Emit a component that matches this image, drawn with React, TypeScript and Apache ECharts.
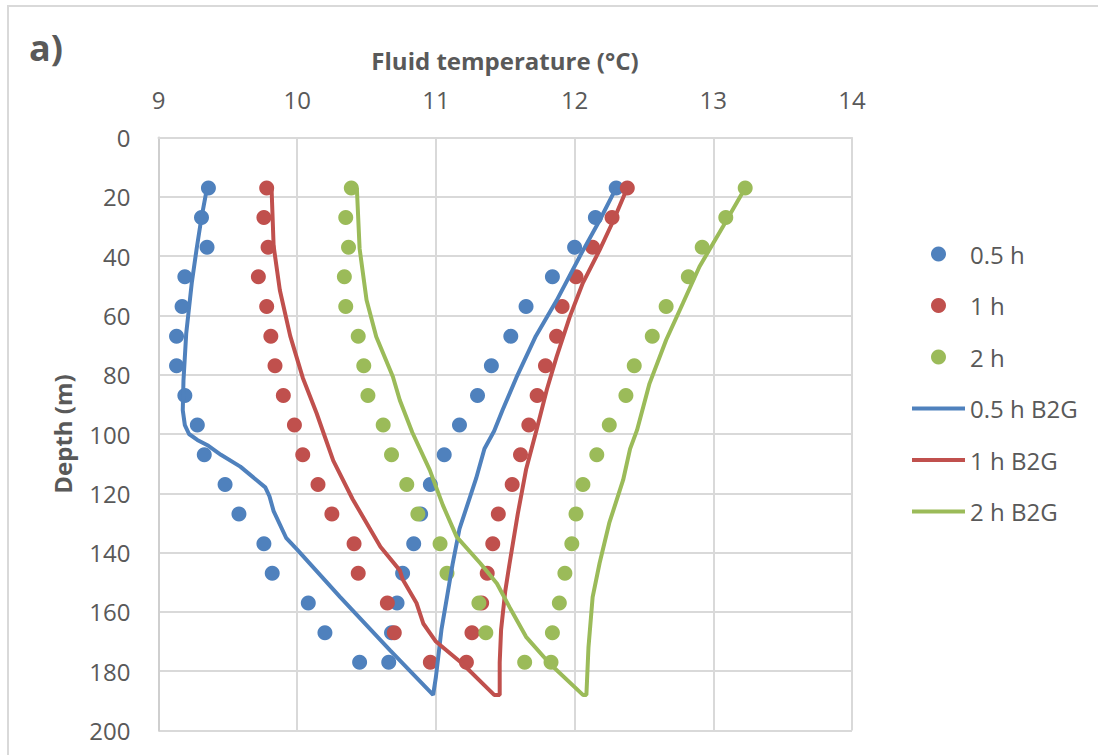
import React, { useEffect, useRef } from "react";
import * as echarts from "echarts";

// Depth of measured points (m)
const depths = [17, 27, 37, 47, 57, 67, 77, 87, 97, 107, 117, 127, 137, 147, 157, 167, 177];

// Measured fluid temperatures (°C), two legs of the U-tube
const dot05Left = [9.36, 9.31, 9.35, 9.19, 9.17, 9.13, 9.13, 9.19, 9.28, 9.33, 9.48, 9.58, 9.76, 9.82, 10.08, 10.2, 10.45];
const dot05Right = [12.3, 12.15, 12.0, 11.84, 11.65, 11.54, 11.4, 11.3, 11.17, 11.06, 10.96, 10.89, 10.84, 10.76, 10.72, 10.68, 10.66];
const dot1Left = [9.78, 9.76, 9.79, 9.72, 9.78, 9.81, 9.84, 9.9, 9.98, 10.04, 10.15, 10.25, 10.41, 10.44, 10.65, 10.7, 10.96];
const dot1Right = [12.38, 12.27, 12.13, 12.01, 11.91, 11.87, 11.79, 11.73, 11.67, 11.61, 11.55, 11.45, 11.41, 11.37, 11.33, 11.26, 11.22];
const dot2Left = [10.39, 10.35, 10.37, 10.34, 10.35, 10.44, 10.48, 10.51, 10.62, 10.68, 10.79, 10.87, 11.03, 11.08, 11.31, 11.36, 11.64];
const dot2Right = [13.23, 13.09, 12.92, 12.82, 12.66, 12.56, 12.43, 12.37, 12.25, 12.16, 12.06, 12.01, 11.98, 11.93, 11.89, 11.84, 11.83];

// B2G model profiles: [temperature, depth], down one leg and up the other
const b2g05: [number, number][] = [
  [12.3, 17], [12.18, 28], [12.05, 39], [11.87, 55], [11.72, 67], [11.58, 81], [11.48, 92], [11.42, 99],
  [11.35, 105], [11.29, 115], [11.17, 132], [11.12, 144], [11.08, 155], [11.04, 166], [11.0, 182], [10.98, 188],
  [10.67, 173], [10.31, 155], [10.0, 139], [9.92, 135], [9.83, 126], [9.8, 121], [9.77, 118], [9.59, 111],
  [9.45, 107], [9.36, 104], [9.28, 102], [9.22, 100], [9.19, 97], [9.175, 92], [9.18, 82], [9.2, 66],
  [9.24, 49], [9.275, 37.5], [9.31, 27], [9.35, 17],
];
const b2g1: [number, number][] = [
  [12.38, 17], [12.28, 28], [12.18, 38], [12.06, 49], [11.965, 60.5], [11.87, 74], [11.8, 85], [11.725, 98.7],
  [11.65, 112], [11.59, 127], [11.53, 144], [11.5, 153], [11.47, 166], [11.46, 177], [11.46, 188],
  [11.42, 188], [11.19, 177.4], [11.0, 170], [10.91, 164], [10.86, 157], [10.76, 149], [10.74, 146],
  [10.6, 138], [10.4, 122], [10.26, 109], [10.2, 101], [10.14, 93], [10.04, 81], [9.95, 67], [9.875, 51.5],
  [9.83, 36.6], [9.815, 17],
];
const b2g2: [number, number][] = [
  [13.23, 17], [13.07, 30], [12.9, 43.6], [12.78, 56], [12.66, 68.3], [12.54, 83], [12.45, 98.7], [12.4, 105],
  [12.35, 115.5], [12.25, 130], [12.18, 143.6], [12.13, 155], [12.1, 172], [12.085, 188],
  [12.06, 188], [11.82, 177.4], [11.65, 168.4], [11.53, 158.3], [11.44, 150.4], [11.32, 143.6], [11.15, 134.7],
  [11.05, 124], [10.956, 112.2], [10.83, 99.5], [10.74, 88.6], [10.69, 80.7], [10.57, 67.2], [10.5, 54.8],
  [10.45, 37.5], [10.43, 17],
];

const xTicks = [9, 10, 11, 12, 13, 14];
const yTicks = [0, 20, 40, 60, 80, 100, 120, 140, 160, 180, 200];

const BLUE = "#4F81BD";
const RED = "#C0504D";
const GREEN = "#9BBB59";
const TEXT = "#595959";
const GRID = "#D9D9D9";
const FONT = "'Open Sans', 'Noto Sans', sans-serif";
const LINE_ICON = "path://M0 0H53V4H0Z";

const pairs = (left: number[], right: number[]) => [
  ...left.map((t, i) => [t, depths[i]]),
  ...right.map((t, i) => [t, depths[i]]),
];

export default function App() {
  const ref = useRef<HTMLDivElement>(null);
  useEffect(() => {
    if (!ref.current) return;
    const chart = echarts.init(ref.current, null, { renderer: "svg" });
    const scatter = (name: string, color: string, data: number[][]) => ({
      name,
      type: "scatter",
      data,
      symbol: "circle",
      symbolSize: 15,
      itemStyle: { color, opacity: 1 },
      z: 2,
    });
    const line = (name: string, color: string, data: number[][]) => ({
      name,
      type: "line",
      data,
      symbol: "none",
      showSymbol: false,
      lineStyle: { color, width: 4 },
      itemStyle: { color },
      z: 3,
    });
    chart.setOption({
      animation: false,
      backgroundColor: "#fff",
      textStyle: { fontFamily: FONT },
      grid: { left: 158.5, right: 246, top: 137.5, bottom: 24.5, containLabel: false },
      xAxis: {
        type: "value",
        position: "top",
        min: xTicks[0],
        max: xTicks[xTicks.length - 1],
        interval: 1,
        axisLine: { show: true, lineStyle: { color: GRID, width: 2 } },
        axisTick: { show: false },
        axisLabel: { color: TEXT, fontSize: 24, fontFamily: FONT, margin: 26 },
        splitLine: { show: true, lineStyle: { color: GRID, width: 2 } },
      },
      yAxis: {
        type: "value",
        inverse: true,
        min: yTicks[0],
        max: yTicks[yTicks.length - 1],
        interval: 20,
        axisLine: { show: true, lineStyle: { color: "#CFCFCF", width: 2 } },
        axisTick: { show: false },
        axisLabel: { color: TEXT, fontSize: 24, fontFamily: FONT, margin: 28 },
        splitLine: { show: true, lineStyle: { color: GRID, width: 2 } },
      },
      legend: {
        orient: "vertical",
        left: 907,
        top: 237,
        itemWidth: 53,
        itemHeight: 15,
        itemGap: 27.5,
        textStyle: { color: TEXT, fontSize: 24, fontFamily: FONT, lineHeight: 24 },
        data: [
          { name: "0.5 h", icon: "circle" },
          { name: "1 h", icon: "circle" },
          { name: "2 h", icon: "circle" },
          { name: "0.5 h B2G", icon: LINE_ICON },
          { name: "1 h B2G", icon: LINE_ICON },
          { name: "2 h B2G", icon: LINE_ICON },
        ],
      },
      graphic: [
        {
          type: "rect",
          shape: { x: 8, y: 6, width: 1300, height: 1000 },
          style: { fill: "none", stroke: GRID, lineWidth: 2 },
          silent: true,
        },
        {
          type: "text",
          x: 29,
          y: 47,
          style: { text: "a)", fill: TEXT, font: `bold 36px ${FONT}`, verticalAlign: "middle" },
        },
        {
          type: "text",
          x: 505,
          y: 60,
          style: {
            text: "Fluid temperature (°C)",
            fill: TEXT,
            font: `bold 24px ${FONT}`,
            align: "center",
            verticalAlign: "middle",
          },
        },
        {
          type: "text",
          x: 62,
          y: 434,
          rotation: Math.PI / 2,
          style: {
            text: "Depth (m)",
            fill: TEXT,
            font: `bold 24px ${FONT}`,
            align: "center",
            verticalAlign: "middle",
          },
        },
      ],
      series: [
        scatter("0.5 h", BLUE, pairs(dot05Left, dot05Right)),
        scatter("1 h", RED, pairs(dot1Left, dot1Right)),
        scatter("2 h", GREEN, pairs(dot2Left, dot2Right)),
        line("0.5 h B2G", BLUE, b2g05),
        line("1 h B2G", RED, b2g1),
        line("2 h B2G", GREEN, b2g2),
      ],
    });
    return () => chart.dispose();
  }, []);
  return (
    <div
      ref={ref}
      style={{ position: "absolute", left: 0, top: 0, width: 1098, height: 755 }}
    />
  );
}
